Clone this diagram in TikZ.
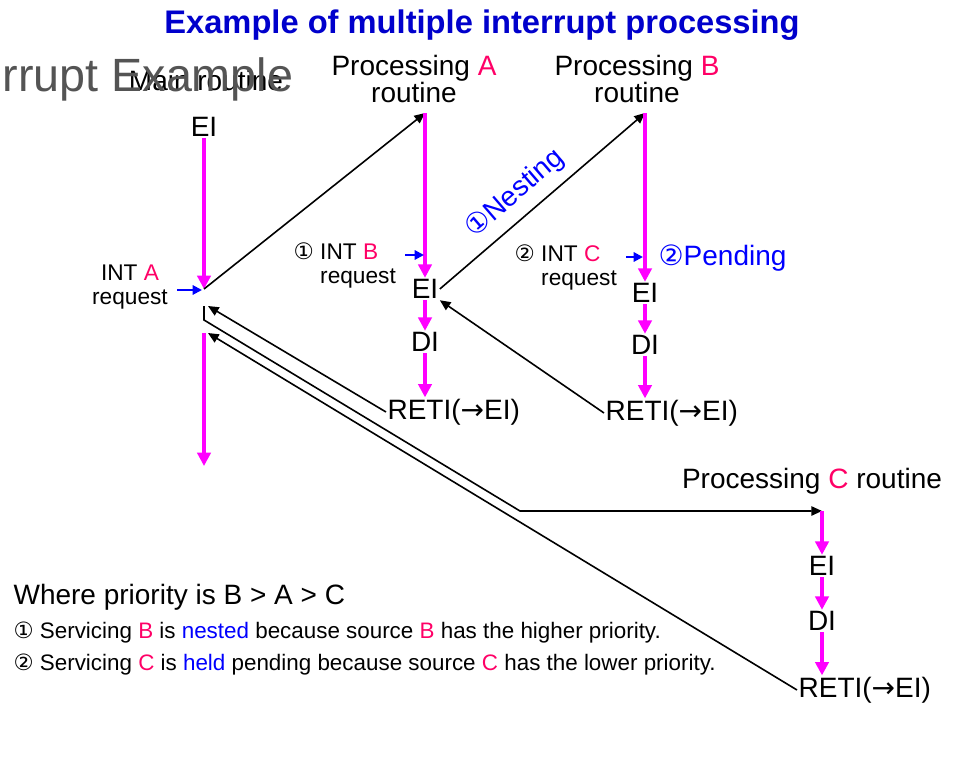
\documentclass[tikz,border=0pt]{standalone}
\usepackage{fontspec}
\setmainfont{Liberation Sans}
\newfontfamily\symfont{DejaVu Sans}
\usetikzlibrary{arrows.meta}
\definecolor{flow}{HTML}{FF00FF}
\definecolor{srcred}{HTML}{FF0066}
\definecolor{reqblue}{HTML}{0000FF}
\definecolor{titleblue}{HTML}{0000CC}
\newcommand{\src}[1]{\textcolor{srcred}{#1}}
\newcommand{\cnum}[1]{{\symfont #1}}

\begin{document}
\begin{tikzpicture}[x=0.75pt, y=-0.75pt,
    lbl/.style={inner sep=1pt, font=\fontsize{21}{17}\selectfont},
    req/.style={inner sep=1pt, align=left, font=\fontsize{17}{18}\selectfont},
    note/.style={inner sep=1pt, anchor=west, font=\fontsize{16.8}{17}\selectfont},
    flowarrow/.style={flow, line width=2.4pt, -{Triangle[length=10pt, width=10pt]}},
    reqarrow/.style={reqblue, line width=1.5pt, shorten <=6pt, -{Triangle[length=7pt, width=7pt]}},
    jump/.style={black, line width=1.2pt, -{Triangle[length=8pt, width=7pt]}}]
    \useasboundingbox (0,0) rectangle (973,759);

    % Titulo y cabeceras
    \node[text=titleblue, font=\fontsize{24.5}{28}\selectfont\bfseries] (title) at (482,25) {Example of multiple interrupt processing};
    \node[lbl] (mainlbl) at (206,80) {Main routine};
    \node[anchor=base west, text=black!67, font=\fontsize{35}{38}\selectfont] (rrupt) at (-2,92) {rrupt Example};
    \node[lbl, align=center] (procA) at (414,79) {Processing \src{A}\\routine};
    \node[lbl, align=center] (procB) at (637,79) {Processing \src{B}\\routine};
    \node[lbl] (procC) at (812,481) {Processing \src{C} routine};

    % Puntos de salto
    \coordinate (mint) at (204,289);
    \coordinate (atop) at (425,113);
    \coordinate (btop) at (645,113);
    \coordinate (cturn) at (520,511);
    \coordinate (ctop) at (822,511);
    \coordinate (mret1) at (208,306);
    \coordinate (lcorner) at (204,320);
    \coordinate (mret2) at (208,333);
    \coordinate (mend) at (204,466);
    \coordinate (aInt) at (202,290);
    \coordinate (bInt) at (424,255);
    \coordinate (cInt) at (643,257);

    % Rutina principal
    \node[lbl] (eiM) at (204,127) {EI};
    \node[req, align=center] (intA) at (130,287) {INT \src{A}\\request};
    \draw[flowarrow] (eiM) -- (mint);
    \draw[reqarrow] (intA.east |- aInt) -- (aInt);
    \draw[jump] (mint) -- (atop);

    % Rutina A
    \node[lbl] (eiA) at (425,289) {EI};
    \node[lbl] (diA) at (425,342) {DI};
    \node[lbl, anchor=west] (retiA) at (386,412) {RETI(\cnum{→}EI)};
    \node[req, anchor=west] (intB) at (292,265) {\cnum{①} INT \src{B}\\\hphantom{\cnum{①} }request};
    \draw[flowarrow] (atop) -- (eiA);
    \draw[flowarrow] (eiA) -- (diA);
    \draw[flowarrow] (diA) -- (diA |- retiA.north);
    \draw[reqarrow] (intB.east |- bInt) -- (bInt);
    \draw[jump] (eiA.east) -- (btop) node[pos=0.44, sloped, above=6pt, lbl, text=reqblue] (nest) {\cnum{①}Nesting};

    % Rutina B
    \node[lbl] (eiB) at (645,293) {EI};
    \node[lbl] (diB) at (645,345) {DI};
    \node[lbl, anchor=west] (retiB) at (604,413) {RETI(\cnum{→}EI)};
    \node[req, anchor=west] (intC) at (513,267) {\cnum{②} INT \src{C}\\\hphantom{\cnum{②} }request};
    \node[lbl, anchor=west, text=reqblue] (pend) at (657,258) {\cnum{②}Pending};
    \draw[flowarrow] (btop) -- (eiB);
    \draw[flowarrow] (eiB) -- (diB);
    \draw[flowarrow] (diB) -- (diB |- retiB.north);
    \draw[reqarrow] (intC.east |- cInt) -- (cInt);
    \draw[jump] (retiB.west) -- (eiA.south east);

    % Retorno de A y paso a C
    \draw[jump] (retiA.west) -- (mret1);
    \draw[jump] (mret1 -| mint) -- (lcorner) -- (cturn) -- (ctop);

    % Rutina C
    \node[lbl] (eiC) at (822,566) {EI};
    \node[lbl] (diC) at (822,621) {DI};
    \node[lbl, anchor=west] (retiC) at (797,690) {RETI(\cnum{→}EI)};
    \draw[flowarrow] (ctop) -- (eiC);
    \draw[flowarrow] (eiC) -- (diC);
    \draw[flowarrow] (diC) -- (diC |- retiC.north);
    \draw[jump] (retiC.west) -- (mret2);
    \draw[flowarrow] (mret2 -| mint) -- (mend);

    % Notas de prioridad
    \node[lbl, anchor=west] (prio) at (12,597) {Where priority is B > A > C};
    \node[note] (noteA) at (12,633) {\cnum{①} Servicing \src{B} is \textcolor{reqblue}{nested} because source \src{B} has the higher priority.};
    \node[note] (noteB) at (12,665) {\cnum{②} Servicing \src{C} is \textcolor{reqblue}{held} pending because source \src{C} has the lower priority.};
\end{tikzpicture}
\end{document}
